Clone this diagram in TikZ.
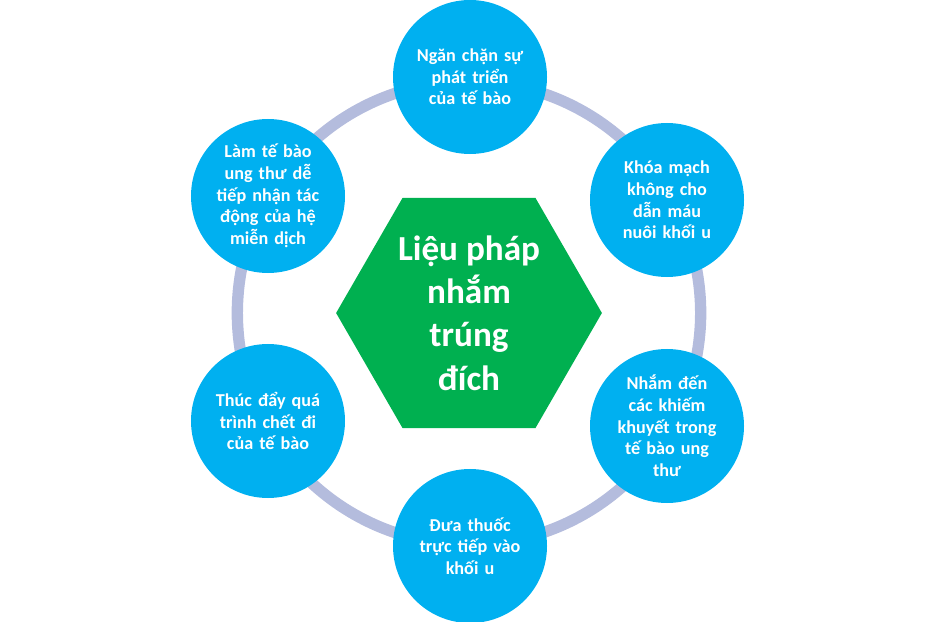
\documentclass[tikz,border=0pt]{standalone}
\usepackage{fontspec}
\setmainfont{Carlito}
\usetikzlibrary{shapes.geometric}
\definecolor{ringgray}{HTML}{B4BCDD}
\definecolor{stepblue}{HTML}{00B0F0}
\definecolor{hexgreen}{HTML}{00B050}
\tikzset{
  effect/.style={circle, fill=stepblue, minimum size=4.62cm, inner sep=0pt,
    text=white, font=\bfseries\fontsize{15.5}{18.5}\selectfont, align=center, text width=3.4cm},
  core/.style={regular polygon, regular polygon sides=6, fill=hexgreen, minimum size=6.6cm,
    text=white, font=\bfseries\fontsize{30}{37}\selectfont, align=center}
}
\begin{document}
\begin{tikzpicture}[x=0.03cm,y=-0.03cm]
            \useasboundingbox (0,0) rectangle (941,622);
            \coordinate (mid) at (469,313);
            \draw[ringgray, line width=0.34cm] (mid) circle (6.95cm);
            \node[core] (hub) at (mid) {Liệu pháp\\nhắm\\trúng\\đích};

            \node[effect] (s1) at (470,77) {Ngăn chặn sự\\phát triển\\của tế bào};
            \node[effect] (s2) at (667,200) {Khóa mạch\\không cho\\dẫn máu\\nuôi khối u};
            \node[effect] (s3) at (667,426) {Nhắm đến\\các khiếm\\khuyết trong\\tế bào ung\\thư};
            \node[effect] (s4) at (470,546) {Đưa thuốc\\trực tiếp vào\\khối u};
            \node[effect] (s5) at (268,421) {Thúc đẩy quá\\trình chết đi\\của tế bào};
            \node[effect] (s6) at (268,196) {Làm tế bào\\ung thư dễ\\tiếp nhận tác\\động của hệ\\miễn dịch};
        \end{tikzpicture}
\end{document}
